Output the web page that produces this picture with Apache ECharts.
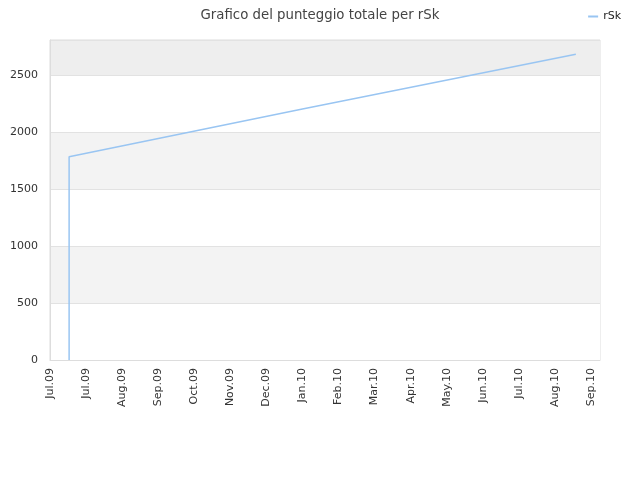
<!DOCTYPE html>
<html>
<head>
<meta charset="utf-8">
<script src="https://cdn.jsdelivr.net/npm/echarts@6/dist/echarts.min.js"></script>
<style>html,body{margin:0;padding:0;background:#fff}#c{width:640px;height:480px}</style>
</head>
<body>
<div id="c"></div>
<script>
var tickLabels = ['Jul.09','Jul.09','Aug.09','Sep.09','Oct.09','Nov.09','Dec.09','Jan.10','Feb.10','Mar.10','Apr.10','May.10','Jun.10','Jul.10','Aug.10','Sep.10'];
var seriesName = 'rSk';
var xPos = [0.53, 0.53, 7.0, 14.58];
var scores = [0, 1785, 2205, 2685];

var data = xPos.map(function(x, i){ return [x, scores[i]]; });
var chart = echarts.init(document.getElementById('c'));
chart.setOption({
  animation: false,
  title: {
    text: 'Grafico del punteggio totale per rSk',
    left: 'center', top: 4,
    textStyle: {fontFamily: 'DejaVu Sans', fontSize: 13.3, fontWeight: 'normal', color: '#444'}
  },
  legend: {
    right: 14, top: 6,
    itemWidth: 10, itemHeight: 2, itemGap: 8,
    icon: 'rect',
    textStyle: {fontFamily: 'DejaVu Sans', fontSize: 11, color: '#222'},
    data: [seriesName]
  },
  grid: {left: 50, right: 40, top: 40, bottom: 120, containLabel: false,
         show: true, borderColor: '#dddddd', borderWidth: 1, backgroundColor: 'transparent'},
  xAxis: {
    type: 'value', min: 0, max: 15.25, interval: 1,
    axisLine: {show: true, lineStyle: {color: '#dddddd'}},
    axisTick: {show: false},
    splitLine: {show: false},
    axisLabel: {
      rotate: 90, margin: 8, showMaxLabel: false,
      fontFamily: 'DejaVu Sans', fontSize: 11, color: '#333',
      formatter: function(v){ var i = Math.round(v); return (Math.abs(v - i) < 1e-6 && tickLabels[i]) ? tickLabels[i] : ''; }
    }
  },
  yAxis: {
    type: 'value', min: 0, max: 2810, interval: 500,
    axisLine: {show: true, lineStyle: {color: '#dddddd'}},
    axisTick: {show: false},
    splitLine: {show: true, lineStyle: {color: '#e2e2e2'}},
    splitArea: {show: true, areaStyle: {color: ['#ffffff','#f3f3f3','#ffffff','#f3f3f3','#ffffff','#eeeeee']}},
    axisLabel: {
      margin: 12,
      fontFamily: 'DejaVu Sans', fontSize: 11, color: '#333',
      formatter: function(v){ return v % 500 === 0 ? String(v) : ''; }
    }
  },
  series: [{
    name: seriesName, type: 'line', data: data,
    showSymbol: false, symbol: 'none',
    lineStyle: {color: '#99c5f2', width: 1.5},
    itemStyle: {color: '#99c5f2'}
  }]
});
</script>
</body>
</html>
